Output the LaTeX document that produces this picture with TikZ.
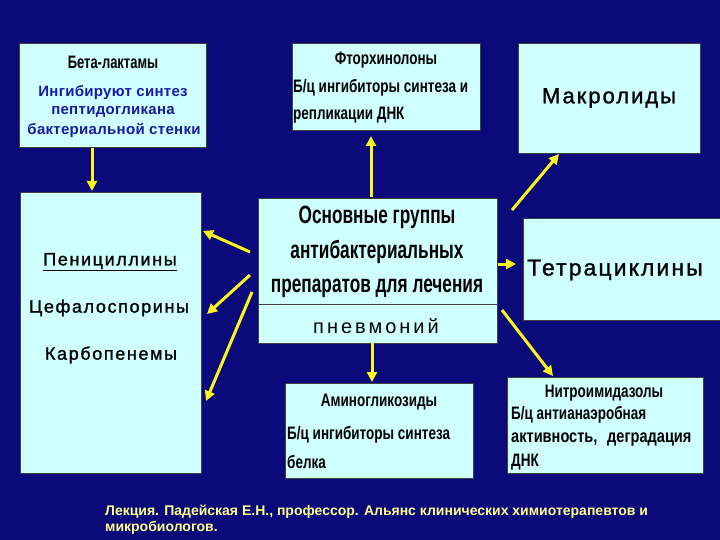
\documentclass[tikz,border=0pt]{standalone}
\usepackage{fontspec}
\setmainfont{Liberation Sans}
\newfontfamily\nbf{Liberation Sans}[FakeStretch=0.75]
\newfontfamily\ncf{Liberation Sans}[FakeStretch=0.69]
\newfontfamily\spf{Liberation Sans}[LetterSpace=9,FakeBold=1.2]
\newfontfamily\spwf{Liberation Sans}[LetterSpace=15]
\newfontfamily\blf{Liberation Sans}[LetterSpace=2]
\usetikzlibrary{arrows.meta}
\definecolor{bg}{RGB}{10,10,122}
\definecolor{boxc}{RGB}{208,255,255}
\definecolor{arr}{RGB}{250,245,30}
\definecolor{foot}{RGB}{255,255,140}
\definecolor{bluet}{RGB}{25,25,165}
\tikzset{
  box/.style={draw=black!75, line width=0.7pt, fill=boxc, inner sep=0pt},
  yarrow/.style={draw=arr, line width=3pt, -{Triangle[length=10pt,width=10pt]}},
  nt/.style={font=\nbf\bfseries\fontsize{18}{20}\selectfont, inner sep=0pt, text=black},
  ct/.style={font=\ncf\bfseries\fontsize{25}{28}\selectfont, inner sep=0pt, text=black},
  bt/.style={font=\blf\bfseries\fontsize{15}{18}\selectfont, inner sep=0pt, text=bluet},
  rt/.style={font=\spf\fontsize{18}{22}\selectfont, inner sep=0pt, text=black},
}
\begin{document}
\begin{tikzpicture}[x=1pt,y=-1pt]
\fill[bg] (0,0) rectangle (720,540);
\useasboundingbox (0,0) rectangle (720,540);
% boxes
\node[box, minimum width=187pt, minimum height=104pt] (beta) at (112.5,95) {};
\node[box, minimum width=188pt, minimum height=87pt] (fq) at (386,86.5) {};
\node[box, minimum width=182pt, minimum height=110pt] (mac) at (609,98) {};
\node[box, minimum width=239pt, minimum height=145pt] (cen) at (377.5,270.5) {};
\node[box, minimum width=181pt, minimum height=281pt] (left) at (110.5,332.5) {};
\node[box, minimum width=198pt, minimum height=102pt] (tet) at (622,269) {};
\node[box, minimum width=188pt, minimum height=95pt] (amino) at (379,430.5) {};
\node[box, minimum width=196pt, minimum height=96pt] (nitro) at (605,425) {};
\draw[black!75, line width=0.7pt] (cen.west |- 0,304) -- (cen.east |- 0,304);
% beta texts
\node[nt, font=\nbf\bfseries\fontsize{18}{20}\selectfont, xscale=0.96] (betat) at (113,62) {Бета-лактамы};
\node[bt] (betab1) at (113,93) {Ингибируют синтез};
\node[bt] (betab2) at (113,112) {пептидогликана};
\node[bt] (betab3) at (114,130) {бактериальной стенки};
% fq
\node[nt] (fq1) at (386,60) {Фторхинолоны};
\node[nt, anchor=west] (fq2) at (293,88) {Б/ц ингибиторы синтеза и};
\node[nt, anchor=west] (fq3) at (293,115) {репликации ДНК};
% macrolides
\node[rt, font=\spf\fontsize{22}{26}\selectfont] (mact) at (609,98) {Макролиды};
% center
\node[ct] (c1) at (377,217) {Основные группы};
\node[ct] (c2) at (377,252) {антибактериальных};
\node[ct] (c3) at (377,288) {препаратов для лечения};
\node[rt, font=\spwf\fontsize{20}{24}\selectfont] (c4) at (376,326) {пневмоний};
% left
\node[rt] (pen) at (110,262) {\underline{Пенициллины}};
\node[rt] (cef) at (109,308) {Цефалоспорины};
\node[rt] (carb) at (111,355) {Карбопенемы};
% tetra
\node[rt, font=\spf\fontsize{23}{26}\selectfont, anchor=west] (tett) at (527,270) {Тетрациклины};
% amino
\node[nt] (am1) at (379,402) {Аминогликозиды};
\node[nt, anchor=west] (am2) at (287,435) {Б/ц ингибиторы синтеза};
\node[nt, anchor=west] (am3) at (287,462) {белка};
% nitro
\node[nt] (ni1) at (604,393) {Нитроимидазолы};
\node[nt, anchor=west] (ni2) at (511,415) {Б/ц антианаэробная};
\node[nt, anchor=west, xscale=1.08] (ni3) at (511,440) {активность,\hspace{9pt}деградация};
\node[nt, anchor=west] (ni4) at (511,462) {ДНК};
% footer
\node[font=\bfseries\fontsize{14}{16}\selectfont, text=foot, anchor=north west, align=left, inner sep=0pt] (foot) at (105,505) {Лекция. Падейская Е.Н., профессор. Альянс клинических химиотерапевтов и\\микробиологов.};
% arrow coordinates
\coordinate (a1s) at (92,148); \coordinate (a1e) at (92,191);
\coordinate (a2s) at (371,197); \coordinate (a2e) at (371,136);
\coordinate (a3s) at (512,210); \coordinate (a3e) at (559,154);
\coordinate (a4s) at (498,264); \coordinate (a4e) at (516,264);
\coordinate (a5s) at (502,310); \coordinate (a5e) at (553,376);
\coordinate (a6s) at (372,343); \coordinate (a6e) at (372,382);
\coordinate (a7s) at (250,252); \coordinate (a7e) at (203,231);
\coordinate (a8s) at (250,275); \coordinate (a8e) at (207,314);
\coordinate (a9s) at (252,292); \coordinate (a9e) at (206,401);
\draw[yarrow] (a1s) -- (a1e);
\draw[yarrow] (a2s) -- (a2e);
\draw[yarrow] (a3s) -- (a3e);
\draw[yarrow] (a4s) -- (a4e);
\draw[yarrow] (a5s) -- (a5e);
\draw[yarrow] (a6s) -- (a6e);
\draw[yarrow] (a7s) -- (a7e);
\draw[yarrow] (a8s) -- (a8e);
\draw[yarrow] (a9s) -- (a9e);
\end{tikzpicture}
\end{document}
